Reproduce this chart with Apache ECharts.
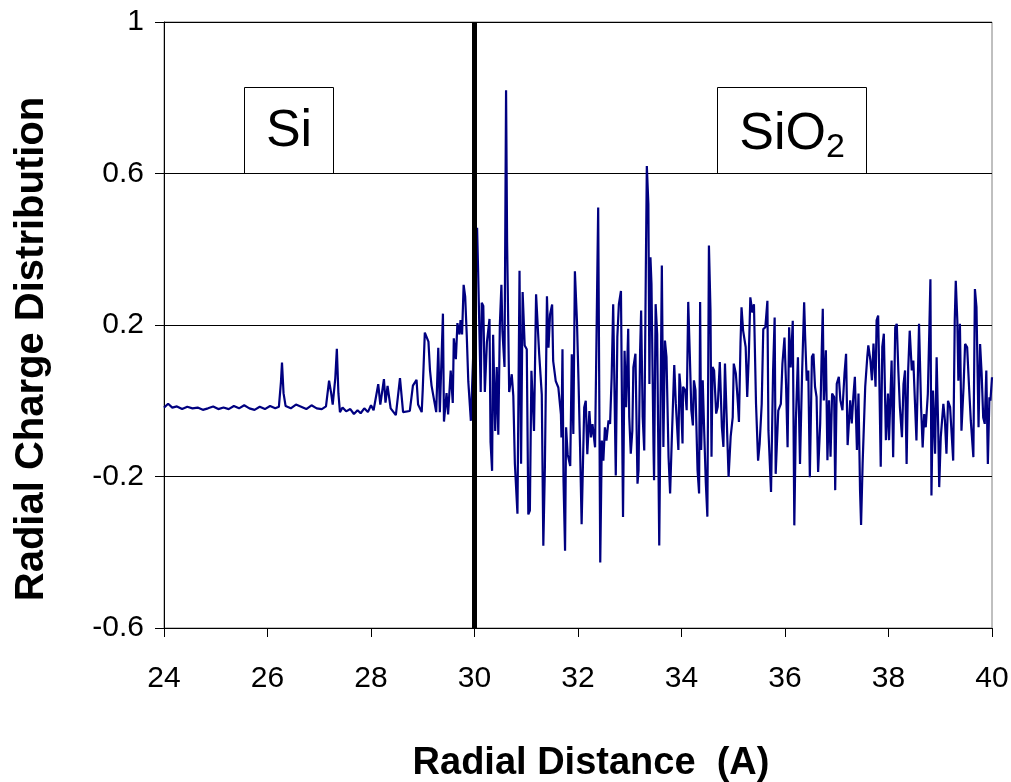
<!DOCTYPE html>
<html>
<head>
<meta charset="utf-8">
<script src="https://cdn.jsdelivr.net/npm/echarts@6/dist/echarts.min.js"></script>
<style>html,body{margin:0;padding:0;background:#fff;}#chart{width:1011px;height:782px;}</style>
</head>
<body>
<div id="chart"></div>
<script>
// Radial distance (A) / radial charge distribution pairs
const siliconRegion = [
[24.00,-0.018],[24.08,-0.008],[24.16,-0.018],[24.25,-0.015],[24.35,-0.022],[24.45,-0.016],[24.55,-0.02],[24.65,-0.018],[24.75,-0.024],[24.85,-0.02],[24.95,-0.015],[25.05,-0.022],[25.15,-0.018],[25.25,-0.022],[25.35,-0.014],[25.45,-0.02],[25.55,-0.012],[25.65,-0.02],[25.75,-0.024],[25.85,-0.016],[25.95,-0.022],[26.05,-0.014],[26.15,-0.02],[26.22,-0.016],[26.26,0.05],[26.28,0.101],[26.31,0.02],[26.35,-0.014],[26.45,-0.02],[26.55,-0.01],[26.65,-0.016],[26.75,-0.022],[26.85,-0.012],[26.95,-0.02],[27.05,-0.022],[27.13,-0.015],[27.19,0.053],[27.23,0.02],[27.26,-0.01],[27.31,0.06],[27.34,0.137],[27.37,0.02],[27.40,-0.03],[27.45,-0.018],[27.52,-0.028],[27.60,-0.022],[27.67,-0.035],[27.74,-0.025],[27.80,-0.033],[27.87,-0.02],[27.94,-0.03],[28.00,-0.012],[28.05,-0.025],[28.14,0.044],[28.18,-0.01],[28.25,0.057],[28.28,-0.005],[28.32,0.039],[28.38,-0.02],[28.48,-0.038],[28.56,0.06]
];
const interfaceRegion = [
[28.62,-0.03],[28.75,-0.027],[28.81,0.04],[28.88,0.055],[28.91,-0.01],[28.98,-0.03],[29.00,0.03],[29.04,0.18],[29.11,0.156],[29.14,0.08],[29.17,0.04],[29.20,0.036],[29.26,-0.03],[29.30,0.14],[29.33,-0.03],[29.39,0.23],[29.41,-0.055],[29.46,0.02],[29.49,-0.036],[29.54,0.08],[29.58,-0.006],[29.60,0.165],[29.64,0.11],[29.67,0.205],[29.71,0.175],[29.73,0.213],[29.76,0.175],[29.79,0.306],[29.82,0.275],[29.85,0.174],[29.88,0.051],[29.93,-0.053],[29.97,0.1],[30.02,0.3],[30.05,0.457]
];
const oxideRegion = [
[30.07,0.343],[30.12,0.023],[30.14,0.259],[30.17,0.25],[30.20,0.023],[30.24,0.155],[30.29,0.216],[30.31,-0.109],[30.34,-0.185],[30.36,0.174],[30.40,-0.08],[30.43,0.089],[30.46,-0.09],[30.49,0.202],[30.52,0.306],[30.54,0.183],[30.58,0.089],[30.61,0.82],[30.63,0.419],[30.67,0.023],[30.72,0.07],[30.75,0.013],[30.78,-0.166],[30.83,-0.298],[30.87,0.343],[30.90,-0.166],[30.93,0.287],[30.97,0.146],[31.01,0.136],[31.04,-0.30],[31.07,-0.29],[31.10,0.079],[31.15,-0.08],[31.19,0.281],[31.21,0.281],[31.25,0.123],[31.30,0.017],[31.33,-0.383],[31.36,-0.176],[31.40,0.276],[31.43,0.14],[31.46,0.228],[31.50,0.254],[31.52,0.105],[31.57,0.052],[31.62,0.035],[31.67,-0.036],[31.68,-0.097],[31.70,0.136],[31.72,-0.211],[31.75,-0.396],[31.77,-0.07],[31.80,-0.141],[31.85,-0.172],[31.88,0.123],[31.91,-0.088],[31.94,0.342],[31.98,0.21],[32.01,0.052],[32.04,-0.123],[32.07,-0.326],[32.12,-0.018],[32.15,0.0],[32.18,-0.141],[32.22,-0.027],[32.25,-0.097],[32.28,-0.062],[32.33,-0.123],[32.37,0.30],[32.39,0.51],[32.43,-0.427],[32.46,-0.105],[32.49,-0.158],[32.52,-0.07],[32.55,-0.105],[32.59,-0.052],[32.62,-0.061],[32.65,0.062],[32.68,0.255],[32.71,0.26],[32.73,-0.197],[32.76,0.168],[32.79,0.255],[32.83,0.29],[32.86,-0.166],[32.87,-0.307],[32.90,0.132],[32.93,-0.017],[32.97,0.19],[32.99,-0.043],[33.02,-0.14],[33.05,-0.079],[33.07,0.088],[33.11,0.124],[33.15,-0.219],[33.17,-0.184],[33.20,0.132],[33.22,0.238],[33.25,-0.043],[33.28,-0.131],[33.31,0.335],[33.33,0.62],[33.36,0.519],[33.38,0.044],[33.40,0.379],[33.42,0.308],[33.46,-0.131],[33.47,-0.21],[33.50,0.255],[33.53,0.176],[33.57,-0.382],[33.60,0.062],[33.62,0.357],[33.65,-0.122],[33.68,0.159],[33.71,0.115],[33.75,-0.149],[33.78,-0.245],[33.81,-0.113],[33.86,0.094],[33.89,-0.007],[33.94,-0.13],[33.96,0.072],[33.98,0.037],[34.02,-0.113],[34.03,0.037],[34.07,0.028],[34.10,-0.025],[34.13,0.261],[34.16,0.124],[34.19,-0.025],[34.22,-0.065],[34.24,0.054],[34.27,0.028],[34.31,-0.183],[34.34,-0.245],[34.36,0.261],[34.38,-0.13],[34.41,0.054],[34.44,-0.087],[34.47,-0.218],[34.50,-0.306],[34.53,0.41],[34.56,0.239],[34.58,-0.148],[34.60,0.089],[34.63,0.08],[34.67,-0.034],[34.70,-0.016],[34.74,0.102],[34.78,-0.069],[34.81,-0.122],[34.84,0.098],[34.87,-0.034],[34.91,-0.201],[34.95,-0.095],[34.99,-0.043],[35.01,0.098],[35.05,0.072],[35.09,-0.007],[35.11,-0.056],[35.14,0.151],[35.16,0.247],[35.19,0.186],[35.24,0.142],[35.27,0.01],[35.30,0.116],[35.33,0.273],[35.37,0.233],[35.40,0.255],[35.44,-0.008],[35.48,-0.158],[35.51,-0.114],[35.55,-0.008],[35.58,0.189],[35.62,0.194],[35.66,0.264],[35.68,-0.079],[35.73,-0.241],[35.77,0.08],[35.80,0.22],[35.82,-0.193],[35.87,-0.026],[35.92,-0.008],[35.95,0.097],[35.99,0.167],[36.02,0.044],[36.05,-0.123],[36.08,0.194],[36.11,0.088],[36.15,0.211],[36.18,-0.329],[36.21,-0.052],[36.25,0.115],[36.29,-0.167],[36.33,0.071],[36.37,0.26],[36.39,0.167],[36.42,0.053],[36.45,0.08],[36.48,-0.202],[36.52,0.116],[36.55,0.124],[36.58,0.037],[36.61,0.01],[36.64,-0.188],[36.68,-0.06],[36.71,0.133],[36.73,0.243],[36.75,0.001],[36.79,0.133],[36.82,-0.157],[36.85,0.001],[36.88,-0.148],[36.91,0.019],[36.95,0.01],[36.97,-0.236],[37.00,0.045],[37.04,0.063],[37.07,0.001],[37.11,-0.025],[37.15,0.072],[37.18,0.124],[37.21,-0.117],[37.26,0.001],[37.29,-0.06],[37.32,0.01],[37.35,0.063],[37.39,-0.13],[37.42,0.019],[37.45,-0.236],[37.47,-0.328],[37.50,-0.166],[37.55,0.037],[37.59,0.116],[37.61,0.146],[37.65,0.107],[37.68,0.054],[37.71,0.151],[37.75,0.037],[37.77,0.212],[37.80,0.225],[37.82,0.08],[37.85,-0.174],[37.88,0.142],[37.91,0.177],[37.95,-0.104],[37.99,0.019],[38.01,-0.104],[38.06,0.106],[38.09,-0.149],[38.13,0.194],[38.16,0.203],[38.19,0.08],[38.22,-0.017],[38.26,-0.096],[38.29,0.044],[38.32,0.08],[38.35,-0.167],[38.38,0.08],[38.41,0.185],[38.45,0.08],[38.48,0.106],[38.51,0.0],[38.54,-0.105],[38.59,0.203],[38.63,-0.017],[38.66,-0.123],[38.69,-0.035],[38.72,-0.07],[38.76,0.018],[38.79,0.194],[38.81,0.321],[38.83,-0.25],[38.86,0.027],[38.90,-0.14],[38.93,0.115],[38.96,-0.07],[38.98,-0.228],[39.01,-0.096],[39.06,-0.008],[39.09,-0.052],[39.12,-0.14],[39.15,0.0],[39.19,-0.017],[39.22,-0.087],[39.25,-0.158],[39.28,0.211],[39.30,0.317],[39.33,0.211],[39.35,0.053],[39.38,0.203],[39.41,-0.079],[39.45,0.036],[39.48,0.15],[39.52,0.141],[39.56,0.027],[39.59,-0.052],[39.64,-0.149],[39.67,0.295],[39.70,0.247],[39.74,-0.07],[39.77,0.15],[39.80,0.071],[39.83,-0.044],[39.86,-0.061],[39.89,0.08],[39.92,-0.167],[39.95,0.009],[39.97,0.0],[40.00,0.062]
];
const interfacePosition = 30;
const regionLabels = ['Si', 'SiO{sub|2}'];
const xTitle = 'Radial Distance  (A)';
const yTitle = 'Radial Charge Distribution';

const FONT = "'Liberation Sans', Arial, sans-serif";
const chart = echarts.init(document.getElementById('chart'));
const allData = siliconRegion.concat(interfaceRegion, oxideRegion);

chart.setOption({
  animation: false,
  backgroundColor: '#ffffff',
  grid: { left: 164, right: 19, top: 22, bottom: 154, containLabel: false, outerBoundsMode: 'none',
    show: true, borderColor: '#808080', borderWidth: 1, backgroundColor: 'transparent' },
  xAxis: {
    type: 'value', min: 24, max: 40, interval: 2,
    axisLine: { show: true, onZero: false, lineStyle: { color: '#000', width: 1 } },
    axisTick: { show: true, inside: false, length: 9, lineStyle: { color: '#000' } },
    axisLabel: { color: '#000', fontSize: 30, fontFamily: FONT, margin: 36 },
    splitLine: { show: false },
    name: ''
  },
  yAxis: {
    type: 'value', min: -0.6, max: 1, interval: 0.4,
    axisLine: { show: true, onZero: false, lineStyle: { color: '#000', width: 1 } },
    axisTick: { show: true, inside: false, length: 9, lineStyle: { color: '#000' } },
    axisLabel: { color: '#000', fontSize: 30, fontFamily: FONT, margin: 20,
      formatter: v => String(Math.round(v * 10) / 10) },
    splitLine: { show: true, lineStyle: { color: '#000', width: 1 },
      interval: (i, v) => v > -0.55 && v < 0.95 },
    name: ''
  },
  series: [{
    type: 'line',
    data: allData,
    showSymbol: false,
    symbol: 'none',
    lineStyle: { color: '#000080', width: 2.2 },
    z: 3,
    markLine: {
      silent: true, symbol: 'none', animation: false,
      label: { show: false },
      lineStyle: { color: '#000', width: 5, type: 'solid' },
      data: [{ xAxis: interfacePosition }],
      z: 5
    }
  }],
  graphic: [
    { type: 'text', x: 32, y: 349, rotation: Math.PI / 2, z: 10,
      style: { text: yTitle, fontSize: 40, fontWeight: 'bold', fontFamily: FONT, fill: '#000', align: 'center', verticalAlign: 'middle' } },
    { type: 'text', x: 591, y: 764, z: 10,
      style: { text: xTitle, fontSize: 38, fontWeight: 'bold', fontFamily: FONT, fill: '#000', align: 'center', verticalAlign: 'middle' } },
    { type: 'group', left: 244, top: 87, z: 10, children: [
      { type: 'rect', shape: { x: 0, y: 0, width: 89, height: 86 }, style: { fill: '#fff', stroke: '#000', lineWidth: 1 } },
      { type: 'text', x: 44.5, y: 44, style: { text: regionLabels[0], fontSize: 52, fontFamily: FONT, fill: '#000', align: 'center', verticalAlign: 'middle' } }
    ]},
    { type: 'group', left: 717, top: 87, z: 10, children: [
      { type: 'rect', shape: { x: 0, y: 0, width: 149, height: 86 }, style: { fill: '#fff', stroke: '#000', lineWidth: 1 } },
      { type: 'text', x: 74.5, y: 47, style: { text: regionLabels[1], fontSize: 52, fontFamily: FONT, fill: '#000', align: 'center', verticalAlign: 'middle',
        rich: { sub: { fontSize: 34, fontFamily: FONT, verticalAlign: 'bottom', padding: [26, 0, 0, 0] } } } }
    ]}
  ]
});
</script>
</body>
</html>
